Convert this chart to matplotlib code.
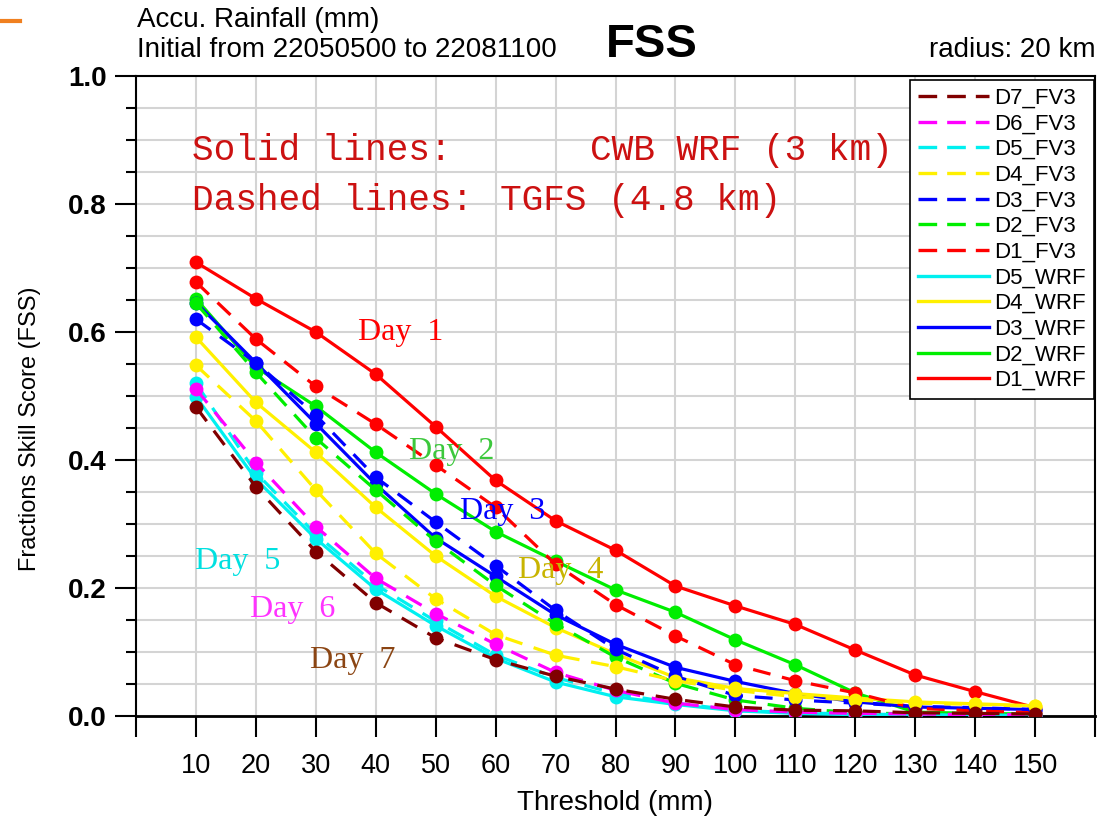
import matplotlib
matplotlib.use("Agg")
from matplotlib import pyplot as plt
from matplotlib.lines import Line2D
import numpy as np

plt.rcParams['font.family'] = ['Liberation Sans', 'DejaVu Sans']

threshold = [10, 20, 30, 40, 50, 60, 70, 80, 90, 100, 110, 120, 130, 140, 150]

d1_wrf = [0.709, 0.652, 0.600, 0.534, 0.452, 0.368, 0.305, 0.259, 0.203, 0.172, 0.143, 0.103, 0.064, 0.038, 0.013]
d2_wrf = [0.652, 0.545, 0.484, 0.412, 0.347, 0.288, 0.242, 0.197, 0.162, 0.119, 0.080, 0.036, 0.006, 0.004, 0.003]
d3_wrf = [0.646, 0.552, 0.457, 0.362, 0.278, 0.218, 0.158, 0.112, 0.076, 0.054, 0.035, 0.022, 0.014, 0.012, 0.010]
d4_wrf = [0.592, 0.490, 0.412, 0.326, 0.250, 0.187, 0.138, 0.097, 0.060, 0.043, 0.035, 0.028, 0.022, 0.019, 0.016]
d5_wrf = [0.499, 0.370, 0.277, 0.198, 0.141, 0.090, 0.053, 0.030, 0.018, 0.008, 0.004, 0.002, 0.001, 0.001, 0.001]

d1_fv3 = [0.678, 0.589, 0.515, 0.456, 0.392, 0.326, 0.237, 0.174, 0.125, 0.080, 0.055, 0.036, 0.012, 0.008, 0.005]
d2_fv3 = [0.645, 0.537, 0.434, 0.353, 0.273, 0.204, 0.144, 0.092, 0.051, 0.025, 0.012, 0.005, 0.003, 0.002, 0.002]
d3_fv3 = [0.620, 0.552, 0.470, 0.373, 0.303, 0.235, 0.165, 0.104, 0.062, 0.032, 0.025, 0.020, 0.015, 0.013, 0.010]
d4_fv3 = [0.548, 0.461, 0.353, 0.254, 0.183, 0.127, 0.095, 0.077, 0.055, 0.040, 0.030, 0.025, 0.020, 0.018, 0.015]
d5_fv3 = [0.520, 0.380, 0.284, 0.205, 0.148, 0.095, 0.060, 0.035, 0.020, 0.009, 0.005, 0.003, 0.002, 0.001, 0.001]
d6_fv3 = [0.511, 0.396, 0.296, 0.215, 0.160, 0.112, 0.068, 0.040, 0.020, 0.010, 0.006, 0.004, 0.003, 0.002, 0.002]
d7_fv3 = [0.483, 0.358, 0.257, 0.177, 0.122, 0.088, 0.062, 0.042, 0.026, 0.014, 0.009, 0.008, 0.005, 0.004, 0.003]

wrf_names = ['D1_WRF', 'D2_WRF', 'D3_WRF', 'D4_WRF', 'D5_WRF']
fv3_names = ['D1_FV3', 'D2_FV3', 'D3_FV3', 'D4_FV3', 'D5_FV3', 'D6_FV3', 'D7_FV3']
wrf_series = [d1_wrf, d2_wrf, d3_wrf, d4_wrf, d5_wrf]
fv3_series = [d1_fv3, d2_fv3, d3_fv3, d4_fv3, d5_fv3, d6_fv3, d7_fv3]
day_colors = ['#ff0000', '#00ee00', '#0000ff', '#fff000', '#00f0f0', '#ff00ff', '#800000']

day_labels = ['Day  1', 'Day  2', 'Day  3', 'Day  4', 'Day  5', 'Day  6', 'Day  7']
day_label_colors = ['#ff0000', '#3cc83c', '#0000ff', '#c8b400', '#00e0e0', '#ff33ff', '#8b4513']
day_label_x = [44.2, 52.6, 61.1, 70.9, 16.9, 26.2, 36.2]
day_label_y = [0.600, 0.414, 0.320, 0.228, 0.241, 0.166, 0.086]

fig = plt.figure(figsize=(10.97, 8.22), dpi=100)
ax = fig.add_axes([0.124, 0.129, 0.8742, 0.7785])

handles = {}
for name, vals, c in zip(wrf_names, wrf_series, day_colors):
    ln, = ax.plot(threshold, vals, color=c, lw=2.3, marker='o', ms=10,
                  markeredgewidth=0, solid_capstyle='butt', zorder=3)
    handles[name] = ln
for name, vals, c in zip(fv3_names, fv3_series, day_colors):
    ln, = ax.plot(threshold, vals, color=c, lw=2.3, marker='o', ms=10,
                  markeredgewidth=0, linestyle=(0, (5.6, 3.7)), zorder=3)
    handles[name] = ln

ax.set_xlim(0, 160)
ax.set_ylim(0, 1.0)
ax.set_xticks(np.arange(0, 161, 10))
ax.set_xticklabels([''] + [str(v) for v in threshold] + [''])
ax.set_yticks(np.arange(0, 1.01, 0.2))
ax.set_yticklabels(['0.0', '0.2', '0.4', '0.6', '0.8', '1.0'], fontweight='bold')
ax.set_yticks(np.arange(0, 1.01, 0.05), minor=True)
ax.tick_params(axis='x', direction='out', length=15, width=1.5, pad=12, labelsize=19.5)
ax.tick_params(axis='y', which='major', direction='out', length=15, width=1.5, pad=6, labelsize=20)
ax.tick_params(axis='y', which='minor', direction='out', length=7, width=1.5)
ax.tick_params(top=False, right=False)
ax.grid(True, axis='x', color='#d4d4d4', lw=1.5, zorder=0)
ax.grid(True, axis='y', which='both', color='#d4d4d4', lw=1.5, zorder=0)
ax.set_axisbelow(True)
for sp in ax.spines.values():
    sp.set_linewidth(1.5)
ax.spines['bottom'].set_linewidth(2)

# header notes and day labels
mfont = 'Liberation Mono'
sfont = 'Liberation Serif'
note_color = '#cc1111'
ax.text(9.3, 0.884, 'Solid lines:', family=mfont, fontsize=26, color=note_color, va='center')
ax.text(75.7, 0.884, 'CWB WRF (3 km)', family=mfont, fontsize=26, color=note_color, va='center')
ax.text(9.3, 0.806, 'Dashed lines:', family=mfont, fontsize=26, color=note_color, va='center')
ax.text(60.7, 0.806, 'TGFS (4.8 km)', family=mfont, fontsize=26, color=note_color, va='center')
for t, c, x, y in zip(day_labels, day_label_colors, day_label_x, day_label_y):
    ax.text(x, y, t, family=sfont, fontsize=23, color=c, ha='center', va='center', zorder=4)

order = ['D7_FV3', 'D6_FV3', 'D5_FV3', 'D4_FV3', 'D3_FV3', 'D2_FV3', 'D1_FV3',
         'D5_WRF', 'D4_WRF', 'D3_WRF', 'D2_WRF', 'D1_WRF']
leg_handles = []
for n in order:
    ls = '-' if 'WRF' in n else (0, (5.6, 3))
    leg_handles.append(Line2D([], [], color=handles[n].get_color(), lw=2.4, linestyle=ls))
leg = ax.legend(leg_handles, order, loc='upper right', bbox_to_anchor=(0.999, 0.994),
                borderaxespad=0, fontsize=16, handlelength=3.2, handletextpad=0.25,
                labelspacing=0.21, borderpad=0.35, fancybox=False, framealpha=1,
                edgecolor='black')
leg.get_frame().set_linewidth(1.2)
leg.set_zorder(5)

fig.text(0.125, 0.9757, 'Accu. Rainfall (mm)', fontsize=20, va='center', ha='left')
fig.text(0.125, 0.939, 'Initial from 22050500 to 22081100', fontsize=20, va='center', ha='left')
fig.text(0.594, 0.945, 'FSS', fontsize=34, fontweight='bold', va='center', ha='center')
fig.text(0.999, 0.939, 'radius: 20 km', fontsize=20, va='center', ha='right')
fig.text(0.027, 0.479, 'Fractions Skill Score (FSS)', fontsize=17, rotation=90, va='center', ha='center')
fig.text(0.561, 0.023, 'Threshold (mm)', fontsize=20, va='center', ha='center')

fig.add_artist(Line2D([0.0, 0.018], [0.975, 0.975], color='#f08020', lw=3, transform=fig.transFigure))

fig.savefig('out.png', dpi=100)
